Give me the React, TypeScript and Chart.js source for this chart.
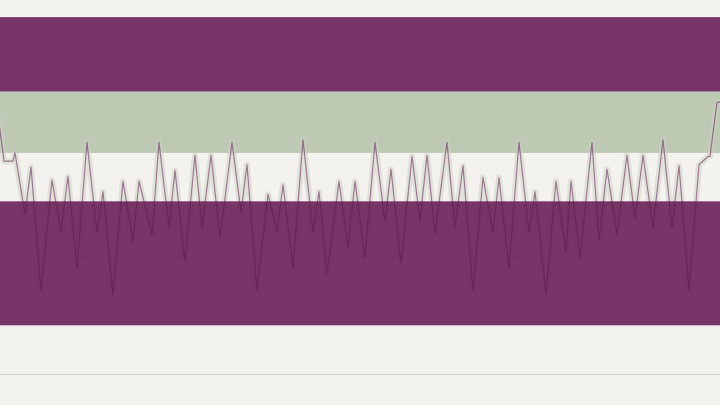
import React, { useEffect, useRef } from "react";
import { Chart, registerables } from "chart.js";

Chart.register(...registerables);

// x positions (days) and values of the series
const days = [
  -0.56, 0.56, 1.81, 2.08, 3.47, 4.31, 5.69, 7.22, 8.47, 9.44,
  10.69, 12.08, 13.47, 14.31, 15.69, 17.08, 18.47, 19.31, 21.11, 22.08,
  23.47, 24.31, 25.69, 27.08, 28.06, 29.31, 30.56, 32.22, 33.47, 34.31,
  35.69, 37.22, 38.47, 39.31, 40.69, 42.08, 43.47, 44.31, 45.42, 47.08,
  48.33, 49.31, 50.69, 52.08, 53.47, 54.31, 55.69, 57.22, 58.33, 59.31,
  60.42, 62.08, 63.19, 64.31, 65.69, 67.08, 68.47, 69.31, 70.69, 72.08,
  73.47, 74.31, 75.83, 77.22, 78.61, 79.31, 80.56, 82.22, 83.19, 84.31,
  85.69, 87.08, 88.19, 89.31, 90.69, 92.08, 93.33, 94.31, 95.69, 97.08,
  98.33, 98.61, 99.58, 100.69,
];
const values = [
  233, 181, 181, 188, 136, 176, 72, 165, 121, 168,
  91, 197, 121, 155, 68, 164, 113, 164, 119, 197,
  125, 173, 96, 186, 125, 186, 116, 197, 138, 178,
  72, 153, 121, 161, 91, 199, 121, 155, 85, 164,
  108, 164, 99, 197, 130, 174, 95, 185, 131, 186,
  120, 197, 125, 177, 72, 167, 121, 167, 91, 197,
  121, 155, 68, 164, 104, 164, 99, 197, 114, 174,
  119, 186, 133, 186, 125, 199, 125, 177, 72, 178,
  185, 185, 231, 231,
];

// horizontal bands (value ranges)
const purpleBandLows = [240, 42];
const purpleBandHighs = [303, 147];
const greenBand = [188, 240];
const lightBand = [147, 188];
const gridValues = [0, 100, 200, 300];

const BG = "#f3f2ee";

export default function App() {
  const ref = useRef<HTMLCanvasElement | null>(null);

  useEffect(() => {
    document.body.style.margin = "0";
    document.body.style.background = BG;
    const canvas = ref.current;
    if (!canvas) return;

    const fillBand = (chart: any, lo: number, hi: number, color: string) => {
      const { ctx, chartArea, scales } = chart;
      const y1 = scales.y.getPixelForValue(hi);
      const y2 = scales.y.getPixelForValue(lo);
      ctx.save();
      ctx.fillStyle = color;
      ctx.fillRect(chartArea.left, y1, chartArea.right - chartArea.left, y2 - y1);
      ctx.restore();
    };

    const bandsPlugin = {
      id: "bands",
      beforeDraw(chart: any) {
        const { ctx, width, height } = chart;
        ctx.save();
        ctx.fillStyle = BG;
        ctx.fillRect(0, 0, width, height);
        ctx.restore();
      },
      beforeDatasetsDraw(chart: any) {
        fillBand(chart, lightBand[0], lightBand[1], BG);
        fillBand(chart, greenBand[0], greenBand[1], "rgb(189,201,179)");
      },
      afterDatasetsDraw(chart: any) {
        for (let i = 0; i < purpleBandLows.length; i++) {
          fillBand(chart, purpleBandLows[i], purpleBandHighs[i], "rgba(97,21,80,0.85)");
        }
      },
    };

    const points = days.map((d, i) => ({ x: d, y: values[i] }));

    const chart = new Chart(canvas, {
      type: "line",
      data: {
        datasets: [
          {
            data: points,
            borderColor: "rgba(110,50,100,0.6)",
            borderWidth: 1.2,
            borderJoinStyle: "round",
            pointRadius: 0,
            tension: 0,
            fill: false,
            order: 1,
          },
          {
            data: points,
            borderColor: "rgba(205,208,195,0.5)",
            borderWidth: 6,
            borderJoinStyle: "round",
            borderCapStyle: "round",
            pointRadius: 0,
            tension: 0,
            fill: false,
            order: 2,
          },
        ],
      },
      options: {
        animation: false,
        responsive: false,
        maintainAspectRatio: false,
        layout: { padding: 0 },
        plugins: { legend: { display: false }, tooltip: { enabled: false } },
        scales: {
          x: { type: "linear", min: 0, max: 100, display: false },
          y: {
            type: "linear",
            min: -25.5,
            max: 317.5,
            afterBuildTicks: (scale: any) => {
              scale.ticks = gridValues.map((v) => ({ value: v }));
            },
            ticks: { display: false },
            border: { display: false },
            grid: { drawTicks: false, color: "rgba(0,0,0,0.12)", lineWidth: 1 },
          },
        },
      },
      plugins: [bandsPlugin],
    });

    return () => chart.destroy();
  }, []);

  return (
    <div style={{ width: 720, height: 405, background: BG }}>
      <canvas ref={ref} width={720} height={405} style={{ display: "block" }} />
    </div>
  );
}
